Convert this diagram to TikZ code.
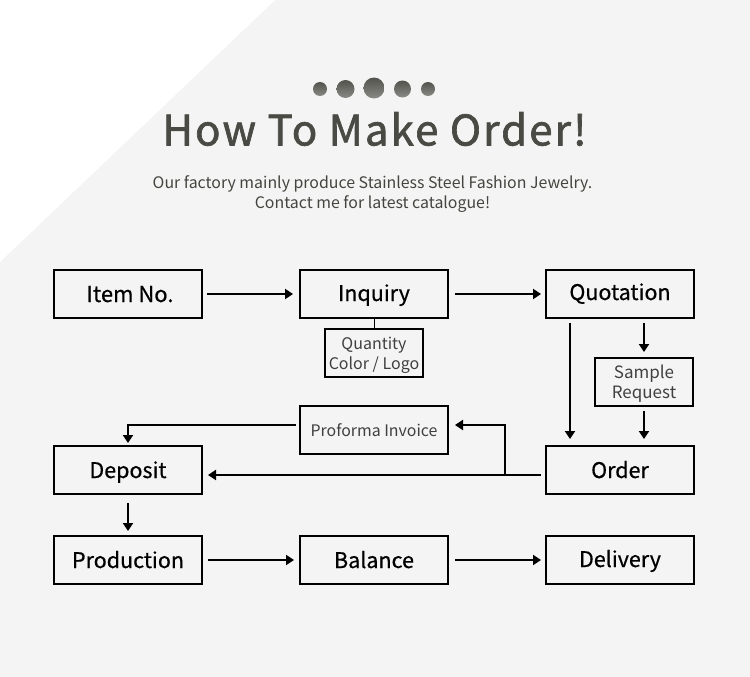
\documentclass[tikz,border=0pt]{standalone}
\usepackage{fontspec}
\setmainfont{Noto Sans CJK SC}
\newfontfamily\medfont[FakeBold=0.6]{Noto Sans CJK SC}
\newfontfamily\titlefont[FakeBold=1.6,LetterSpace=5]{Noto Sans CJK SC}
\usetikzlibrary{arrows.meta}
\definecolor{bg}{HTML}{F4F4F4}
\definecolor{titlec}{HTML}{4A4A44}
\definecolor{subc}{HTML}{45453F}
\tikzset{
  big/.style={draw=black,line width=2pt,minimum width=148pt,minimum height=48pt,inner sep=0pt,outer sep=0pt,anchor=center,text height=18pt,text depth=2pt,font=\medfont\fontsize{21.5}{25}\selectfont,text=black},
  raised/.style={text height=16pt},
  raisedmore/.style={text height=14pt},
  small/.style={draw=black,line width=2pt,minimum width=98pt,minimum height=48pt,inner sep=0pt,outer sep=0pt,align=center,text=black!75},
  conn/.style={line width=2pt,-{Triangle[length=8pt,width=10pt]}},
  dot/.style={circle,inner sep=0pt,top color=titlec!95,bottom color=titlec!65,draw=none}
}
\begin{document}
\begin{tikzpicture}[x=1pt,y=-1pt]
\useasboundingbox (0,0) rectangle (750,677);
\fill[bg] (0,0) rectangle (750,677);
\fill[white] (0,0) -- (275,0) -- (0,262) -- cycle;
\node[dot,minimum size=14pt] (d1) at (320,89) {};
\node[dot,minimum size=18pt] (d2) at (345.5,89) {};
\node[dot,minimum size=21pt] (d3) at (374,88) {};
\node[dot,minimum size=17pt] (d4) at (402.5,89) {};
\node[dot,minimum size=14pt] (d5) at (428,89) {};
\node[text=titlec,font=\titlefont\fontsize{42}{50}\selectfont] (title) at (374.5,129) {How To Make Order!};
\node[text=subc,align=center,font=\fontsize{15.9}{20}\selectfont] (sub) at (372.5,194) {Our factory mainly produce Stainless Steel Fashion Jewelry.\\Contact me for latest catalogue!};
\node[big,font=\medfont\fontsize{22}{25}\selectfont] (item) at (128,294) {\hspace*{4pt}Item No.};
\node[big,raised] (inq) at (374,294) {Inquiry};
\node[big,raisedmore] (quo) at (620,294) {Quotation};
\node[small,font=\fontsize{16}{20}\selectfont] (qty) at (374,353) {\rule{0pt}{16pt}Quantity\\Color / Logo};
\node[small,font=\fontsize{17}{20}\selectfont] (samp) at (644,382) {\rule{0pt}{16pt}Sample\\Request};
\node[big,raisedmore,font=\fontsize{15.9}{20}\selectfont,text=black!75] (prof) at (374,430) {Proforma Invoice};
\node[big] (dep) at (128,470) {Deposit};
\node[big] (ord) at (620,470) {Order};
\node[big] (prod) at (128,560) {Production};
\node[big] (bal) at (374,560) {Balance};
\node[big,raised] (del) at (620,560) {Delivery};
\coordinate (ql) at (570,318);
\coordinate (ol) at (570,446);
\coordinate (qr) at (644,318);
\coordinate (or) at (644,446);
\coordinate (oe) at (546,475);
\coordinate (de) at (202,475);
\coordinate (br) at (505,475);
\coordinate (bt) at (505,425);
\coordinate (pe) at (448,425);
\coordinate (pw) at (300,425);
\coordinate (ct) at (128,425);
\draw[conn,shorten <=5pt,shorten >=7pt] (item.east) -- (inq.west);
\draw[conn,shorten <=7pt,shorten >=5pt] (inq.east) -- (quo.west);
\draw[line width=1pt] (inq.south) -- (qty.north);
\draw[conn,shorten <=5pt,shorten >=7pt] (ql) -- (ol);
\draw[conn,shorten <=5pt,shorten >=6pt] (qr) -- (samp.north);
\draw[conn,shorten <=5pt,shorten >=7pt] (samp.south) -- (or);
\draw[conn,shorten <=5pt,shorten >=6pt] (oe) -- (de);
\draw[conn,shorten >=7pt] (br) -- (bt) -- (pe);
\draw[conn,shorten <=4pt,shorten >=3pt] (pw) -- (ct) -- (dep.north);
\draw[conn,shorten <=9pt,shorten >=5pt] (dep.south) -- (prod.north);
\draw[conn,shorten <=6pt,shorten >=6pt] (prod.east) -- (bal.west);
\draw[conn,shorten <=7pt,shorten >=5pt] (bal.east) -- (del.west);
\end{tikzpicture}
\end{document}
